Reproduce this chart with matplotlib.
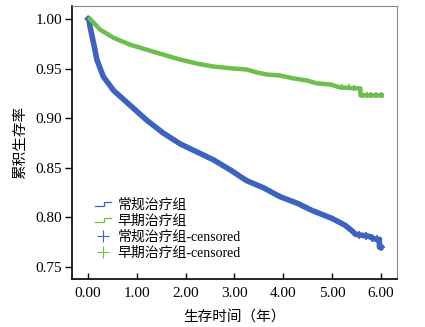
import matplotlib
matplotlib.use("Agg")
import matplotlib.pyplot as plt
from matplotlib.lines import Line2D
from matplotlib.legend_handler import HandlerBase

plt.rcParams["font.family"] = ["Liberation Serif", "Noto Sans CJK SC"]

# survival curves (time in years, cumulative survival)
conv_t = [0.00, 0.02, 0.04, 0.11, 0.18, 0.31, 0.52, 0.86, 1.20, 1.54, 1.89,
          2.23, 2.57, 2.91, 3.25, 3.59, 3.93, 4.30, 4.59, 5.00, 5.27, 5.42,
          5.48, 5.75, 5.89, 5.97, 5.97, 6.00]
conv_s = [1.000, 0.999, 0.992, 0.976, 0.959, 0.942, 0.928, 0.913, 0.898,
          0.885, 0.874, 0.866, 0.858, 0.848, 0.837, 0.830, 0.821, 0.814,
          0.807, 0.799, 0.792, 0.786, 0.783, 0.781, 0.778, 0.778, 0.770,
          0.770]
conv_cens_t = [5.55, 5.70, 5.82, 5.93, 6.00]
conv_cens_s = [0.782, 0.781, 0.779, 0.778, 0.770]

early_t = [0.04, 0.25, 0.52, 0.86, 1.20, 1.54, 1.89, 2.23, 2.57, 2.98, 3.25,
           3.46, 3.66, 3.93, 4.21, 4.48, 4.69, 4.96, 5.16, 5.50, 5.58, 5.58,
           6.02]
early_s = [1.000, 0.989, 0.981, 0.974, 0.969, 0.964, 0.959, 0.955, 0.952,
           0.950, 0.949, 0.946, 0.944, 0.943, 0.940, 0.938, 0.935, 0.934,
           0.931, 0.930, 0.930, 0.923, 0.923]
early_cens_t = [5.20, 5.35, 5.45, 5.62, 5.72, 5.80, 5.90, 6.00]
early_cens_s = [0.931, 0.931, 0.930, 0.923, 0.923, 0.923, 0.923, 0.923]

labels = ["常规治疗组", "早期治疗组", "常规治疗组-censored", "早期治疗组-censored"]
xticks = [0, 1, 2, 3, 4, 5, 6]
yticks = [0.75, 0.80, 0.85, 0.90, 0.95, 1.00]

BLUE = "#3D63C0"
GREEN = "#6CBF4A"


class StepHandler(HandlerBase):
    def create_artists(self, legend, orig_handle, xdescent, ydescent,
                       width, height, fontsize, trans):
        x0, y0 = -xdescent, -ydescent
        xs = [x0, x0 + width * 0.55, x0 + width * 0.55, x0 + width]
        ys = [y0 + height * 0.3, y0 + height * 0.3, y0 + height * 0.75, y0 + height * 0.75]
        return [Line2D(xs, ys, color=orig_handle.get_color(), lw=0.9, transform=trans)]


fig = plt.figure(figsize=(4.25, 3.27), dpi=100)
ax = fig.add_axes([0.1694, 0.1468, 0.7647, 0.8349])

ax.plot(conv_t, conv_s, color=BLUE, lw=4.0, solid_joinstyle="round")
ax.plot(conv_cens_t, conv_cens_s, "+", color=BLUE, ms=6, mew=1.2)
ax.plot(early_t, early_s, color=GREEN, lw=3.2, solid_joinstyle="round")
ax.plot(early_cens_t, early_cens_s, "+", color=GREEN, ms=5, mew=1.2)

ax.set_xlim(-0.33, 6.33)
ax.set_ylim(0.738, 1.013)
ax.set_xticks(xticks)
ax.set_xticklabels([f"{v:.2f}" for v in xticks], fontsize=11)
ax.set_yticks(yticks)
ax.set_yticklabels([f"{v:.2f}" for v in yticks], fontsize=11)
ax.tick_params(axis="x", direction="in", length=4, width=1, pad=6)
ax.tick_params(axis="y", direction="out", length=5, width=1, pad=2)

for s in ["top", "right"]:
    ax.spines[s].set_color("#8a8a8a")
    ax.spines[s].set_linewidth(0.8)
for s in ["left", "bottom"]:
    ax.spines[s].set_linewidth(1.2)

ax.set_xlabel("生存时间（年）", fontsize=10.5, labelpad=7)
ax.set_ylabel("累积生存率", fontsize=10.5, labelpad=6)

handles = [
    Line2D([], [], color=BLUE),
    Line2D([], [], color=GREEN),
    Line2D([], [], color=BLUE, marker="+", ls="", ms=9, mew=0.8),
    Line2D([], [], color=GREEN, marker="+", ls="", ms=9, mew=0.8),
]
ax.legend(handles, labels, loc="upper left", bbox_to_anchor=(0.04, 0.33),
          frameon=False, fontsize=10, handlelength=1.2, handletextpad=0.45,
          labelspacing=0.2, borderpad=0.2,
          handler_map={handles[0]: StepHandler(), handles[1]: StepHandler()})

fig.savefig("out.png", dpi=100)
